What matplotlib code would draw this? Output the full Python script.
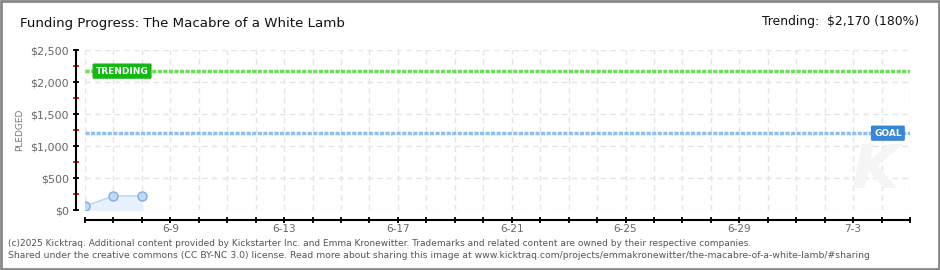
import matplotlib
matplotlib.use("Agg")
import matplotlib.pyplot as plt
import matplotlib.dates as mdates
from matplotlib.patches import Rectangle
import datetime as dt

# data
dates = [dt.date(2025, 6, 6), dt.date(2025, 6, 7), dt.date(2025, 6, 8)]
pledged = [60, 220, 220]
goal = 1200
trending = 2170
start, end = dt.date(2025, 6, 6), dt.date(2025, 7, 5)
label_every = 4
first_label = dt.date(2025, 6, 9)

W, H = 940, 270
fig = plt.figure(figsize=(W / 100, H / 100), dpi=100)
ax = fig.add_axes([85 / W, (H - 210) / H, (910 - 85) / W, 160 / H])

# grid
ax.set_xlim(start, end)
ax.set_ylim(0, 2500)
ax.xaxis.set_major_locator(mdates.DayLocator())

def fmt(x, pos):
    d = mdates.num2date(x).date()
    if (d - first_label).days % label_every == 0:
        return f"{d.month}-{d.day}"
    return ""

ax.xaxis.set_major_formatter(plt.FuncFormatter(fmt))
ax.set_yticks([0, 500, 1000, 1500, 2000, 2500])
ax.set_yticklabels(["$0", "$500", "$1,000", "$1,500", "$2,000", "$2,500"])
ax.set_yticks([250, 750, 1250, 1750, 2250], minor=True)
ax.grid(True, color="#e4e4e4", linestyle=(0, (4, 3)), linewidth=1)
ax.set_axisbelow(True)

for s in ["top", "right"]:
    ax.spines[s].set_visible(False)
ax.spines["left"].set_position(("outward", 6.5))
ax.spines["bottom"].set_position(("outward", 7))
ax.spines["left"].set_linewidth(1.5)
ax.spines["bottom"].set_linewidth(1.5)
ax.tick_params(axis="both", which="major", direction="inout", length=4, width=1.3,
               labelsize=8, labelcolor="#666666", color="black")
ax.tick_params(axis="x", pad=1, labelsize=7.5)
ax.tick_params(axis="y", pad=3)
ax.tick_params(axis="y", which="minor", direction="inout", length=4, width=1.3, color="#ee1111")

# lines
ax.axhline(trending, color="#6ddc5c", linewidth=2.5, linestyle=(0, (1.2, 0.4)))
ax.axhline(goal, color="#8ec0ee", linewidth=2.5, linestyle=(0, (1.2, 0.4)))

ax.fill_between(dates, pledged, 0, color="#e3efff", alpha=0.8)
ax.plot(dates, pledged, color="#b3d3f3", linewidth=1, marker="o", markersize=6.5,
        markerfacecolor="#bcdcff", markeredgecolor="#88aad8", markeredgewidth=1)

ax.text(dt.datetime(2025, 6, 6, 9), trending, "TRENDING", color="white",
        fontsize=6.5, fontweight="bold", va="center", ha="left",
        bbox=dict(boxstyle="round,pad=0.35,rounding_size=0.15", fc="#14b814", ec="none"))
ax.text(dt.datetime(2025, 7, 4, 17), goal, "GOAL", color="white",
        fontsize=6.5, fontweight="bold", va="center", ha="right",
        bbox=dict(boxstyle="round,pad=0.35,rounding_size=0.15", fc="#3a86d6", ec="none"))

# watermark
fig.text(875 / W, 1 - 172 / H, "K", fontsize=44, fontweight="bold", style="italic",
         color="#f5f5f5", ha="center", va="center", zorder=0)

# labels
fig.text(20 / W, 1 - 130 / H, "PLEDGED", rotation=90, fontsize=6.5, color="#777777",
         ha="center", va="center")
fig.text(20 / W, 1 - 24 / H, "Funding Progress: The Macabre of a White Lamb", fontsize=9.6,
         color="#111111", ha="left", va="center")
fig.text(919 / W, 1 - 22 / H, "Trending:  $2,170 (180%)", fontsize=8.9, color="#111111",
         ha="right", va="center")
fig.text(8 / W, 1 - 243 / H, "(c)2025 Kicktraq. Additional content provided by Kickstarter Inc. and Emma Kronewitter. "
         "Trademarks and related content are owned by their respective companies.",
         fontsize=6.5, color="#555555", ha="left", va="center")
fig.text(8 / W, 1 - 256 / H, "Shared under the creative commons (CC BY-NC 3.0) license. Read more about sharing this image at "
         "www.kicktraq.com/projects/emmakronewitter/the-macabre-of-a-white-lamb/#sharing",
         fontsize=6.7, color="#555555", ha="left", va="center")

# border
fig.patches.append(Rectangle((0.001, 0.002), 0.998, 0.996, transform=fig.transFigure,
                             fill=False, edgecolor="#888888", linewidth=2))

fig.savefig("out.png", dpi=100)
